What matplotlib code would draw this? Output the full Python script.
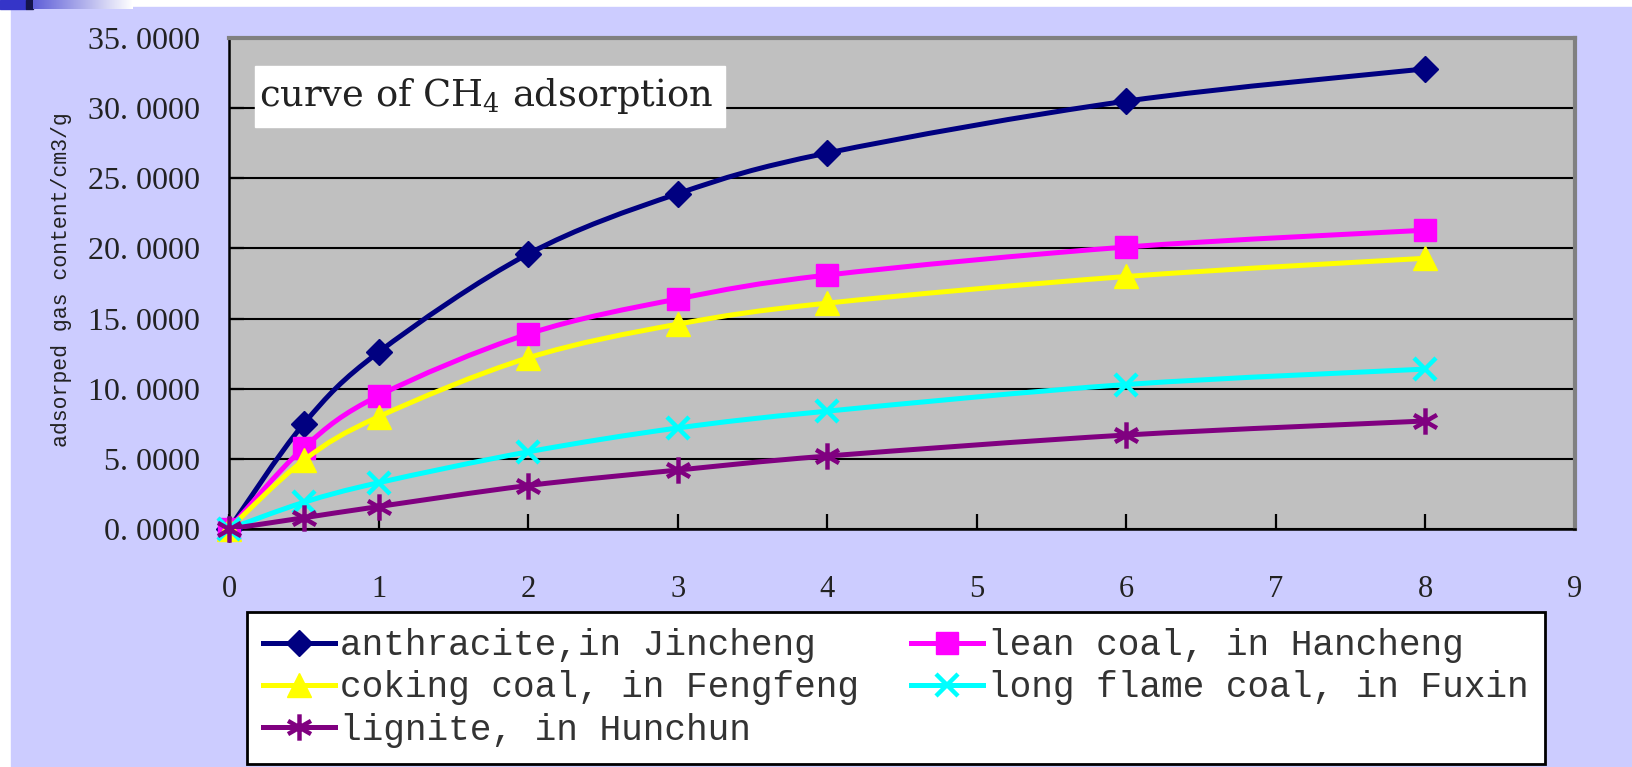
import matplotlib
matplotlib.use("Agg")
import matplotlib.pyplot as plt
from matplotlib.patches import Rectangle, PathPatch
from matplotlib.path import Path
from matplotlib.lines import Line2D
import numpy as np

# data
pressure = [0, 0.5, 1, 2, 3, 4, 6, 8]
anthracite = [0, 7.5, 12.6, 19.6, 23.9, 26.8, 30.5, 32.8]
lean_coal = [0, 5.8, 9.5, 13.9, 16.4, 18.1, 20.1, 21.3]
coking_coal = [0, 4.9, 8.0, 12.2, 14.6, 16.1, 18.0, 19.3]
long_flame = [0, 1.9, 3.3, 5.5, 7.2, 8.4, 10.3, 11.4]
lignite = [0, 0.8, 1.6, 3.1, 4.2, 5.2, 6.7, 7.7]

names = ["anthracite,in Jincheng", "lean coal, in Hancheng",
         "coking coal, in Fengfeng", "long flame coal, in Fuxin",
         "lignite, in Hunchun"]
x_ticks = list(range(0, 10))
y_ticks = list(range(0, 40, 5))

W, H = 1632, 767
def fx(p): return p / W
def fy(p): return 1 - p / H

# asterisk marker (vertical bar plus two flat diagonals)
ast = Path([(0, -1), (0, 1), (-0.87, -0.5), (0.87, 0.5), (-0.87, 0.5), (0.87, -0.5)],
           [Path.MOVETO, Path.LINETO, Path.MOVETO, Path.LINETO, Path.MOVETO, Path.LINETO])

styles = [
    dict(color="#000080", marker="D", ms=13, mew=1),
    dict(color="#FF00FF", marker="s", ms=16, mew=1),
    dict(color="#FFFF00", marker="^", ms=17, mew=1),
    dict(color="#00FFFF", marker="x", ms=16, mew=3.2),
    dict(color="#800080", marker=ast, ms=19, mew=3.2),
]
series = [anthracite, lean_coal, coking_coal, long_flame, lignite]

fig = plt.figure(figsize=(W / 100, H / 100), dpi=100, facecolor="white")

# slide background
fig.patches.append(Rectangle((fx(11), 0), 1 - fx(11), fy(7), transform=fig.transFigure,
                             color="#CCCCFF", zorder=-10))
fig.patches.append(Rectangle((0, fy(9)), fx(26), 9 / H, transform=fig.transFigure,
                             color="#3535C8", zorder=-9))
fig.patches.append(Rectangle((fx(26), fy(9)), fx(7), 9 / H, transform=fig.transFigure,
                             color="#15154A", zorder=-9))
gax = fig.add_axes([fx(33), fy(9), fx(100), 9 / H], zorder=-8)
grad = np.linspace(0, 1, 100)[None, :]
gax.imshow(grad, aspect="auto", cmap=matplotlib.colors.LinearSegmentedColormap.from_list(
    "g", ["#6060D8", "#FFFFFF"]))
gax.axis("off")

ax = fig.add_axes([fx(229), fy(529), fx(1575) - fx(229), fy(38) - fy(529)])
ax.set_facecolor("#C0C0C0")
ax.set_xlim(0, 9)
ax.set_ylim(0, 35)
ax.set_xticks(x_ticks)
ax.set_yticks(y_ticks)
ax.set_xticklabels([str(t) for t in x_ticks], family="Liberation Serif", fontsize=22,
                   color="#222222")
ax.set_yticklabels(["%d. 0000" % t for t in y_ticks], family="Liberation Serif", fontsize=23,
                   color="#222222")
ax.tick_params(axis="both", direction="in", length=11, width=1.6, color="black")
ax.tick_params(axis="x", pad=33)
ax.tick_params(axis="y", pad=21)
ax.grid(axis="y", color="black", linewidth=1.5)
ax.set_axisbelow(True)
for s in ["left", "bottom"]:
    ax.spines[s].set_color("black")
    ax.spines[s].set_linewidth(1.8)
for s in ["top", "right"]:
    ax.spines[s].set_color("#808080")
    ax.spines[s].set_linewidth(3)

fig.text(fx(62), fy(280), "adsorped gas content/cm3/g", family="Liberation Mono",
         fontsize=15.5, rotation=90, ha="center", va="center", color="#222222")


def smooth_path(xs, ys):
    # Excel-like smoothed line: Catmull-Rom segments as cubic Beziers
    pts = np.column_stack([xs, ys]).astype(float)
    verts = [pts[0]]
    codes = [Path.MOVETO]
    n = len(pts)
    for i in range(n - 1):
        p0 = pts[max(i - 1, 0)]
        p1 = pts[i]
        p2 = pts[i + 1]
        p3 = pts[min(i + 2, n - 1)]
        verts += [p1 + (p2 - p0) / 6, p2 - (p3 - p1) / 6, p2]
        codes += [Path.CURVE4] * 3
    return Path(verts, codes)


handles = []
for k, (vals, st) in enumerate(zip(series, styles)):
    ax.add_patch(PathPatch(smooth_path(pressure, vals), fill=False, edgecolor=st["color"],
                           linewidth=3.6, zorder=3 + k, capstyle="round"))
    ax.plot(pressure, vals, linestyle="none", marker=st["marker"], markersize=st["ms"],
            color=st["color"], markeredgecolor=st["color"], markeredgewidth=st["mew"],
            zorder=3.5 + k, clip_on=False)
    handles.append(Line2D([], [], color=st["color"], linewidth=3.6, marker=st["marker"],
                          markersize=st["ms"], markeredgewidth=st["mew"],
                          markeredgecolor=st["color"]))

# title box
fig.patches.append(Rectangle((fx(255), fy(127)), fx(725) - fx(255), fy(66) - fy(127),
                             transform=fig.transFigure, color="white", zorder=5))
fig.text(fx(259), fy(96), r"curve of CH$_\mathregular{4}$ adsorption", family="DejaVu Serif",
         fontsize=26.5, va="center", ha="left", zorder=6, color="#222222")

# legend is filled row by row in the reference
order = [0, 2, 4, 1, 3]
leg = fig.legend([handles[i] for i in order], [names[i] for i in order], loc="upper left",
                 bbox_to_anchor=(fx(247), fy(612)),
                 ncol=2, prop={"family": "Liberation Mono", "size": 26},
                 frameon=True, fancybox=False, edgecolor="black", facecolor="white",
                 framealpha=1, borderpad=0.45, handlelength=2.0, handletextpad=0.12,
                 columnspacing=1.45, labelspacing=0.2, borderaxespad=0)
leg.get_frame().set_linewidth(2)
for t in leg.get_texts():
    t.set_color("#333333")

fig.savefig("out.png", dpi=100, facecolor=fig.get_facecolor())
